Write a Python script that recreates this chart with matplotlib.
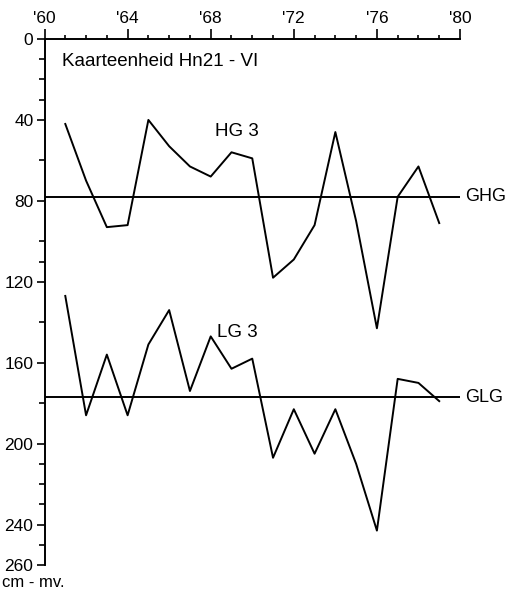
import matplotlib
matplotlib.use("Agg")
import matplotlib.pyplot as plt
from matplotlib.ticker import FixedLocator

plt.rcParams['font.family'] = ['Liberation Sans', 'DejaVu Sans']

years = list(range(1961, 1980))
hg3 = [42, 70, 93, 92, 40, 53, 63, 68, 56, 59,
       118, 109, 92, 46, 90, 143, 78, 63, 91]
lg3 = [127, 186, 156, 186, 151, 134, 174, 147, 163, 158,
       207, 183, 205, 183, 210, 243, 168, 170, 179]
ghg = 78
glg = 177

xticks_major = [1960, 1964, 1968, 1972, 1976, 1980]
xtick_labels = ["'60", "'64", "'68", "'72", "'76", "'80"]
yticks_major = [0, 40, 80, 120, 160, 200, 240, 260]
yticks_minor = [10, 20, 30, 60, 100, 110, 140, 180, 210, 220, 230, 250]

fig = plt.figure(figsize=(5.07, 5.90), dpi=100)
ax = fig.add_axes([0.0878, 0.0424, 0.8195, 0.8915])

ax.plot(years, hg3, color='black', lw=1.4)
ax.plot(years, lg3, color='black', lw=1.4)
ax.plot([1960, 1980], [ghg, ghg], color='black', lw=1.4)
ax.plot([1960, 1980], [glg, glg], color='black', lw=1.4)

ax.set_xlim(1960, 1980)
ax.set_ylim(260, 0)

ax.xaxis.tick_top()
ax.set_xticks(xticks_major)
ax.set_xticklabels(xtick_labels, fontsize=12.5)
ax.xaxis.set_minor_locator(FixedLocator([y for y in range(1961, 1980)]))
ax.tick_params(axis='x', which='major', length=7, width=1.2, direction='out', pad=2)
ax.tick_params(axis='x', which='minor', length=3, width=1.2, direction='out')
ax.set_yticks(yticks_major)
ax.set_yticklabels([str(v) for v in yticks_major], fontsize=12.5)
ax.yaxis.set_minor_locator(FixedLocator(yticks_minor))
ax.tick_params(axis='y', which='major', length=6, width=1.2, direction='out', pad=2)
ax.tick_params(axis='y', which='minor', length=4, width=1.2, direction='out')

for s in ['right', 'bottom']:
    ax.spines[s].set_visible(False)
for s in ['left', 'top']:
    ax.spines[s].set_linewidth(1.4)

ax.text(1960.85, 11, 'Kaarteenheid Hn21 - VI', fontsize=13.5, va='center')
ax.text(1968.2, 45.5, 'HG 3', fontsize=13.5, va='center')
ax.text(1968.3, 145, 'LG 3', fontsize=13.5, va='center')
ax.text(1980.25, ghg, 'GHG', fontsize=13, va='center', clip_on=False)
ax.text(1980.25, glg, 'GLG', fontsize=13, va='center', clip_on=False)
fig.text(0.004, 0.013, 'cm - mv.', fontsize=12, va='center')

fig.savefig('out.png', dpi=100)
